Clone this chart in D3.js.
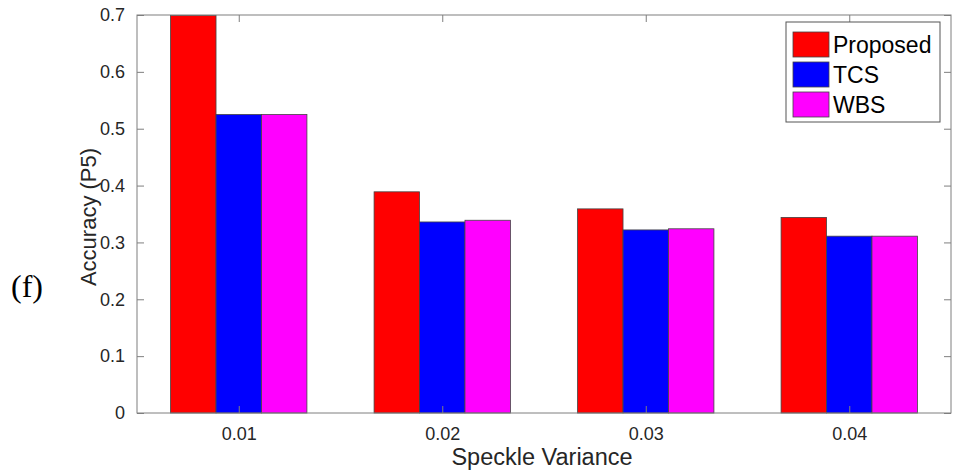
<!DOCTYPE html>
<html>
<head>
<meta charset="utf-8">
<script src="https://cdn.jsdelivr.net/npm/d3@7"></script>
<style>
  body { margin: 0; background: #fff; }
  text { font-family: "Liberation Sans", Arial, sans-serif; }
</style>
</head>
<body>
<div id="chart"></div>
<script>
// Data
const categories = ["0.01", "0.02", "0.03", "0.04"];
const seriesNames = ["Proposed", "TCS", "WBS"];
const proposed = [0.699, 0.389, 0.359, 0.344];
const tcs = [0.525, 0.336, 0.322, 0.311];
const wbs = [0.525, 0.339, 0.324, 0.311];
const yTicks = [0, 0.1, 0.2, 0.3, 0.4, 0.5, 0.6, 0.7];
const colors = ["#ff0000", "#0000ff", "#ff00ff"];

const W = 954, H = 472;
const margin = { top: 15, right: 3, bottom: 59, left: 137 };
const width = W - margin.left - margin.right;
const height = H - margin.top - margin.bottom;

const svg = d3.select("#chart").append("svg").attr("width", W).attr("height", H);
const g = svg.append("g").attr("transform", `translate(${margin.left}, ${margin.top})`);

// Scales
const x0 = d3.scaleBand().domain(categories).range([0, width]).paddingInner(0.33).paddingOuter(0.165);
const x1 = d3.scaleBand().domain(seriesNames).range([0, x0.bandwidth()]);
const xTick = d3.scalePoint().domain(categories)
  .range([x0(categories[0]) + x0.bandwidth() / 2, x0(categories[3]) + x0.bandwidth() / 2]);
const y = d3.scaleLinear().domain([0, 0.7]).range([height, 0]);

const rows = categories.map((c, i) => ({
  cat: c,
  values: [proposed[i], tcs[i], wbs[i]]
}));

// Bars
const groups = g.selectAll(".grp").data(rows).enter().append("g")
  .attr("transform", (d) => `translate(${x0(d.cat)}, 0)`);

groups.selectAll("rect")
  .data((d) => d.values.map((v, j) => ({ name: seriesNames[j], value: v, j: j })))
  .enter().append("rect")
  .attr("x", (d) => x1(d.name))
  .attr("y", (d) => y(d.value))
  .attr("width", x1.bandwidth())
  .attr("height", (d) => height - y(d.value))
  .attr("fill", (d) => colors[d.j])
  .attr("stroke", "#444")
  .attr("stroke-width", 0.8);

// Axes (box with inward ticks)
const axisColor = "#7f7f7f";
const tickColor = "#262626";

function styleAxis(sel, showText) {
  sel.select(".domain").remove();
  sel.selectAll("line").attr("stroke", axisColor);
  sel.selectAll("text").attr("fill", tickColor).style("font-size", "18px");
  if (!showText) sel.selectAll("text").remove();
}

g.append("g").attr("transform", `translate(0, ${height})`)
  .call(d3.axisBottom(xTick).tickSizeInner(-7).tickSizeOuter(0).tickPadding(14))
  .call((s) => styleAxis(s, true));
g.append("g")
  .call(d3.axisTop(xTick).tickSizeInner(-7).tickSizeOuter(0))
  .call((s) => styleAxis(s, false));

g.append("g")
  .call(d3.axisLeft(y).tickValues(yTicks).tickFormat((d) => d === 0 ? "0" : d3.format(".1f")(d))
    .tickSizeInner(-7).tickSizeOuter(0).tickPadding(12))
  .call((s) => styleAxis(s, true));
g.append("g").attr("transform", `translate(${width}, 0)`)
  .call(d3.axisRight(y).tickValues(yTicks).tickSizeInner(-7).tickSizeOuter(0))
  .call((s) => styleAxis(s, false));

// Frame
g.append("rect")
  .attr("x", 0).attr("y", 0).attr("width", width).attr("height", height)
  .attr("fill", "none").attr("stroke", axisColor).attr("stroke-width", 1);

// Axis labels
g.append("text")
  .attr("x", width / 2 - 2).attr("y", height + 52)
  .attr("text-anchor", "middle").attr("fill", tickColor).style("font-size", "23.5px")
  .text("Speckle Variance");

g.append("text")
  .attr("transform", `translate(-41, ${height / 2 + 3}) rotate(-90)`)
  .attr("text-anchor", "middle").attr("fill", tickColor).style("font-size", "22px")
  .text("Accuracy (P5)");

// Panel label
svg.append("text")
  .attr("x", 11).attr("y", 297)
  .style("font-family", "'Liberation Serif', 'Times New Roman', serif")
  .style("font-size", "32px").attr("fill", "#000")
  .text("(f)");

// Legend
const legend = svg.append("g").attr("transform", "translate(786, 22)");
legend.append("rect")
  .attr("width", 154).attr("height", 100)
  .attr("fill", "#fff").attr("stroke", "#555").attr("stroke-width", 1);
const items = legend.selectAll(".item").data(seriesNames).enter().append("g")
  .attr("transform", (d, i) => `translate(7, ${10 + i * 30})`);
items.append("rect")
  .attr("width", 36).attr("height", 25)
  .attr("fill", (d, i) => colors[i]).attr("stroke", "#444").attr("stroke-width", 0.8);
items.append("text")
  .attr("x", 40).attr("y", 21)
  .attr("fill", "#000").style("font-size", "23px")
  .text((d) => d);
</script>
</body>
</html>
